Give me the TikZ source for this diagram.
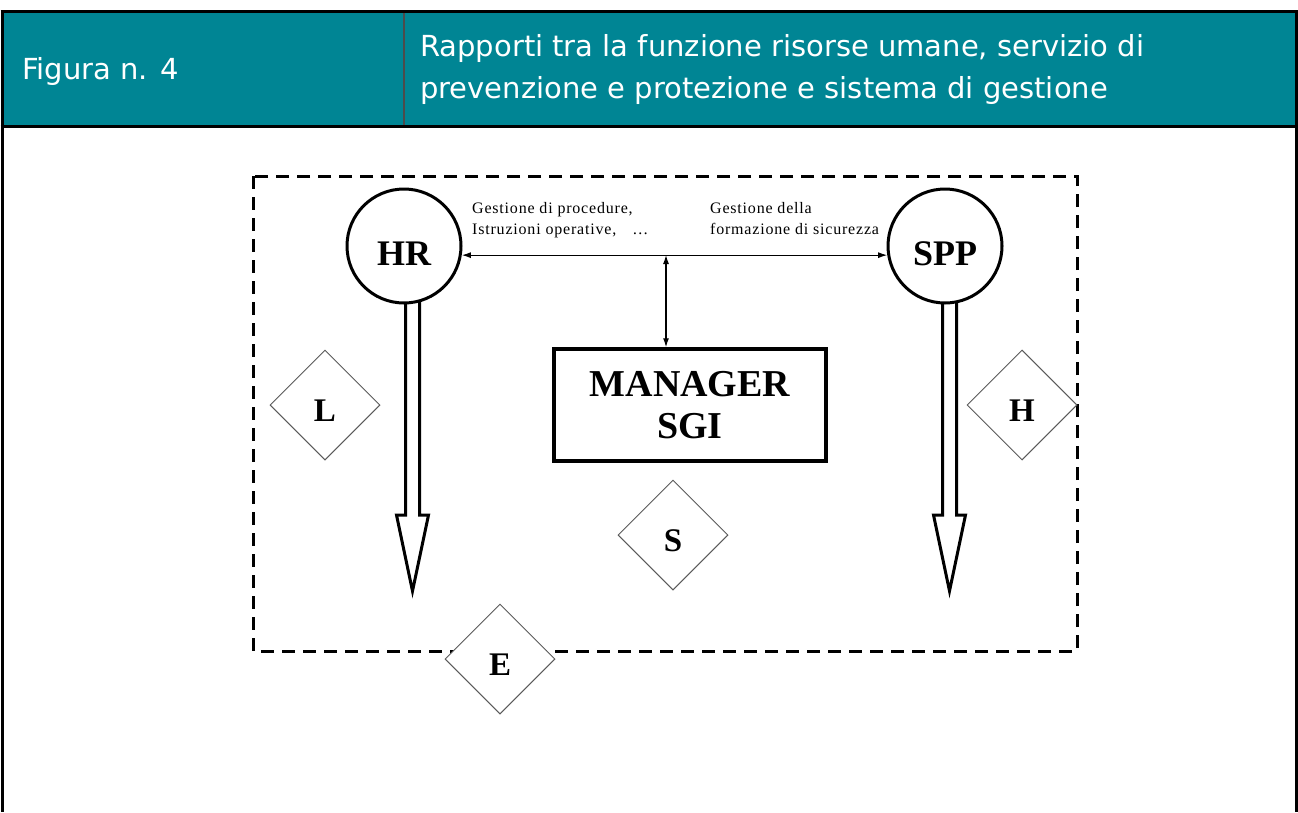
\documentclass[tikz,border=0pt]{standalone}
\usepackage{fontspec}
\setmainfont{Liberation Serif}
\newfontfamily\hdrfont{DejaVu Sans}
\newfontfamily\lblfont{Liberation Serif}[LetterSpace=5]
\usetikzlibrary{shapes.geometric,arrows.meta}
\definecolor{hdrteal}{RGB}{0,133,148}
\definecolor{diagray}{RGB}{90,90,90}
\begin{document}
\begin{tikzpicture}[x=1pt,y=-1pt,
  hdr/.style={anchor=base west, inner sep=0pt, text=white, font=\hdrfont\fontsize{29}{29}\selectfont},
  circ/.style={circle, draw, line width=3pt, fill=white, minimum size=114pt, inner sep=0pt,
    text height=38pt, text depth=0pt, font=\bfseries\fontsize{36}{36}\selectfont},
  dia/.style={diamond, draw=diagray, line width=1pt, fill=white, minimum width=110pt, minimum height=110pt,
    inner sep=0pt, text height=32pt, text depth=0pt, font=\bfseries\fontsize{33}{33}\selectfont},
  lbl/.style={anchor=base west, inner sep=0pt, font=\lblfont\fontsize{16}{21}\selectfont},
  conn/.style={line width=1.2pt, {Latex[length=9pt,width=6pt]}-{Latex[length=9pt,width=6pt]}},
  hollow/.style={line width=3pt, fill=white, line join=miter}
]
\useasboundingbox (0,0) rectangle (1298,812);
% header
\fill[hdrteal] (2,11) rectangle (1296,126);
\draw[line width=1.2pt, black!70] (404,11) -- (404,126);
\draw[line width=3pt] (0.5,11.5) -- (1297.5,11.5);
\draw[line width=3pt] (0.5,126.5) -- (1297.5,126.5);
\draw[line width=3pt] (2,10) -- (2,812);
\draw[line width=3pt] (1296,10) -- (1296,812);
\node[hdr] (fig) at (22,79) {Figura n. 4};
\node[hdr] (tit1) at (420,56) {Rapporti tra la funzione risorse umane, servizio di};
\node[hdr] (tit2) at (420,98) {prevenzione e protezione e sistema di gestione};
% dashed boundary
\draw[line width=3pt, dash pattern=on 13pt off 8pt] (253,176) rectangle (1077,651);
% hollow arrows
\draw[hollow] (405.5,300) -- (405.5,515) -- (396.5,515) -- (412.5,591) -- (428.5,515) -- (419.5,515) -- (419.5,300) -- cycle;
\draw[hollow] (942.5,300) -- (942.5,515) -- (933.5,515) -- (949.5,591) -- (965.5,515) -- (956.5,515) -- (956.5,300) -- cycle;
% circles
\node[circ] (HR) at (404,246) {HR};
\node[circ] (SPP) at (945,246) {SPP};
% manager box
\node[draw, line width=3.5pt, minimum width=272pt, minimum height=112pt, inner sep=0pt, align=center,
  font=\bfseries\fontsize{38}{42}\selectfont] (MGR) at (690,405) {MANAGER\\SGI};
% connectors
\coordinate (J) at (666,255);
\draw[conn] (HR.-9) -- (SPP.189);
\draw[conn] (J) -- (MGR.north -| J);
% labels
\node[lbl] (l1) at (472,213) {Gestione di procedure,};
\node[lbl] (l2) at (472,234) {Istruzioni operative,\quad …};
\node[lbl] (r1) at (710,213) {Gestione della};
\node[lbl] (r2) at (710,234) {formazione di sicurezza};
% diamonds
\node[dia] (L) at (325,405) {L};
\node[dia] (H) at (1022,405) {H};
\node[dia] (S) at (673,535) {S};
\node[dia] (E) at (500,659) {E};
\end{tikzpicture}
\end{document}
